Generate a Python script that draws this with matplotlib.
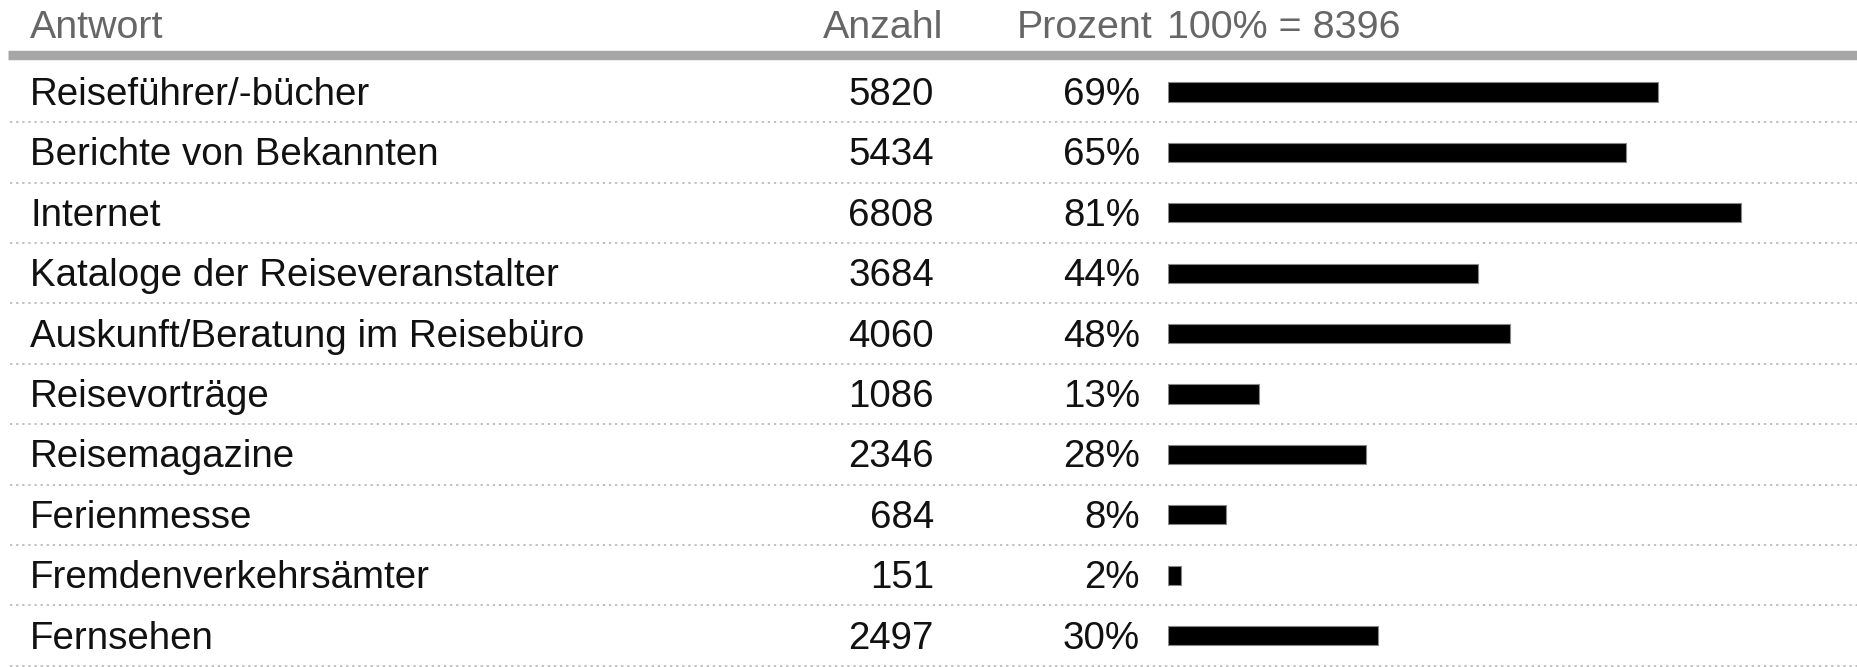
"""
Antwort / Anzahl / Prozent table with bars.
"""
import matplotlib.pyplot as plt

plt.rcParams['font.family'] = ['Liberation Sans', 'DejaVu Sans']

# data
antworten = ['Reiseführer/-bücher', 'Berichte von Bekannten', 'Internet',
             'Kataloge der Reiseveranstalter', 'Auskunft/Beratung im Reisebüro',
             'Reisevorträge', 'Reisemagazine', 'Ferienmesse',
             'Fremdenverkehrsämter', 'Fernsehen']
anzahl = [5820, 5434, 6808, 3684, 4060, 1086, 2346, 684, 151, 2497]
gesamt = 8396
prozent = [a / gesamt * 100 for a in anzahl]

W, H = 1857, 667
fig = plt.figure(figsize=(W / 100, H / 100), dpi=100)

# row geometry (in pixels of the figure)
row0, pitch = 92, 60.4
ytop = -row0 / pitch
ybot = (H - row0) / pitch

ax = fig.add_axes([0, 0, 1, 1])
ax.set_xlim(0, W)
ax.set_ylim(ybot, ytop)
ax.axis('off')

# bar axes: 100% = 707 px, starting at x=1168
bx0, px_per_pct = 1168, 7.07
bax = fig.add_axes([bx0 / W, 0, (W - bx0) / W, 1])
bax.set_xlim(0, (W - bx0) / px_per_pct)
bax.set_ylim(ybot, ytop)
bax.axis('off')

fs = 27.7
fs_hdr = 28.4
base = 0.215  # baseline offset below row centre
hdr_y = (38 - row0) / pitch
hdr_col = '#666666'
txt_col = '#111111'

# header
ax.text(30, hdr_y, 'Antwort', fontsize=fs_hdr, color=hdr_col, va='baseline', ha='left')
ax.text(943, hdr_y, 'Anzahl', fontsize=fs_hdr, color=hdr_col, va='baseline', ha='right')
ax.text(1153, hdr_y, 'Prozent', fontsize=fs_hdr, color=hdr_col, va='baseline', ha='right')
ax.text(1167, hdr_y, f'100% = {gesamt}', fontsize=fs_hdr, color=hdr_col,
        va='baseline', ha='left')
ax.plot([8, W], [(55 - row0) / pitch] * 2, color='#a6a6a6', lw=6.8,
        solid_capstyle='butt')

# rows
for i, (name, n, p) in enumerate(zip(antworten, anzahl, prozent)):
    ax.text(30, i + base, name, fontsize=fs, color=txt_col, va='baseline', ha='left')
    ax.text(934, i + base, str(n), fontsize=fs, color=txt_col, va='baseline', ha='right')
    ax.text(1140, i + base, f'{round(p)}%', fontsize=fs, color=txt_col,
            va='baseline', ha='right')
    ax.plot([10, W], [i + 0.5, i + 0.5], color='#b0b0b0', lw=1.1,
            linestyle=(0, (1.5, 2.5)))

bax.barh(range(len(prozent)), prozent, height=0.32, left=0,
         color='black', edgecolor='#888888', linewidth=0.8)

fig.savefig('out.png', dpi=100)
